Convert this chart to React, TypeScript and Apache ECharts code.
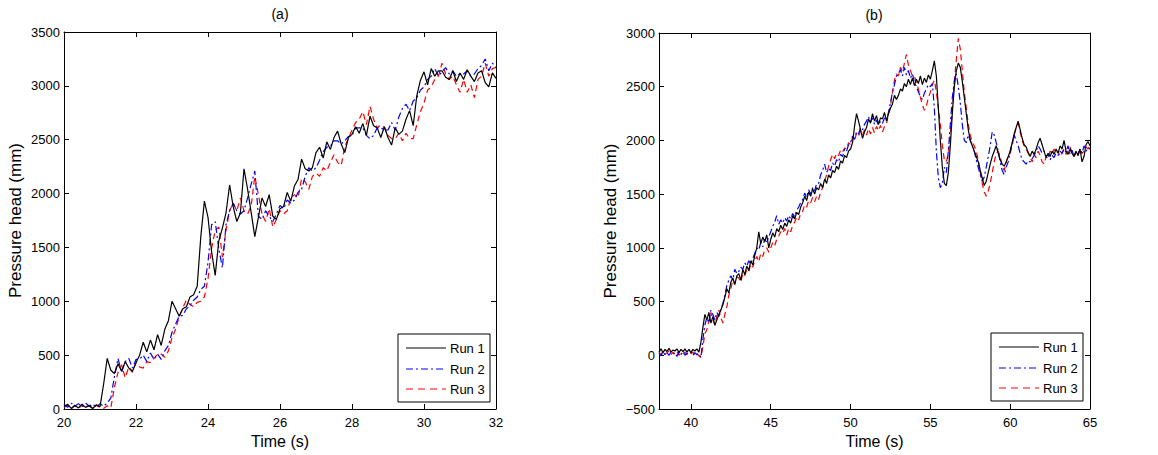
import React, { useEffect, useRef } from "react";
import * as echarts from "echarts";

// Panel (a): samples every 0.1 s from 20 s
const A_START = 20;
const A_STEP = 0.1;
const run1A = [
  20, 45, 5, 35, 10, 45, 15, 35, 5, 40, 20,
  230, 470, 360, 330, 420, 350, 440, 380, 350, 430,
  500, 620, 530, 640, 550, 690, 590, 740, 820, 1000,
  930, 860, 930, 950, 1040, 1060, 1140, 1600, 1930, 1780,
  1460, 1240, 1560, 1680, 1820, 2080, 1880, 1740, 1820, 2230,
  2040, 1820, 1600, 1780, 1960, 1880, 1990, 1790, 1760, 1860,
  1880, 2010, 1930, 2070, 2130, 2320, 2230, 2210, 2240, 2380,
  2430, 2330, 2480, 2410, 2520, 2580, 2460, 2380, 2520, 2550,
  2620, 2560, 2650, 2540, 2720, 2630, 2610, 2520, 2620, 2520,
  2450, 2610, 2550, 2580, 2690, 2770, 2630, 2910, 3050, 3130,
  3010, 3160, 3090, 3140, 3140, 3080, 3060, 3140, 3040, 3120,
  3060, 3150, 3090, 3040, 3120, 3140, 3030, 2990, 3120, 3070,
];
const run2A = [
  45, 15, 55, 25, 50, 20, 55, 25, 45, 15, 50,
  25, 55, 100, 300, 470, 340, 440, 470, 380, 460,
  460, 500, 440, 520, 460, 510, 460, 540, 590, 710,
  790, 860, 870, 930, 960, 1010, 1040, 1110, 1140, 1360,
  1710, 1740, 1490, 1310, 1710, 1840, 1910, 1840, 1810, 1840,
  1960, 2090, 2210, 1790, 1760, 1840, 1790, 1740, 1810, 1890,
  1860, 1940, 1910, 1940, 2010, 2040, 2160, 2240, 2210, 2240,
  2310, 2390, 2430, 2440, 2490, 2490, 2460, 2490, 2530, 2540,
  2610, 2610, 2610, 2540, 2510, 2540, 2610, 2610, 2590, 2590,
  2660, 2590, 2710, 2790, 2830, 2770, 2860, 2890, 2960, 2990,
  3060, 3090, 3160, 3090, 3130, 3170, 3110, 3140, 3090, 3110,
  3110, 3140, 3090, 3110, 3160, 3190, 3250, 3140, 3210, 3170,
];
const run3A = [
  15, 35, 0, 30, 5, 35, 10, 30, 0, 35, 15,
  5, 30, 10, 200, 340, 410, 290, 390, 340, 430,
  390, 380, 440, 430, 470, 510, 510, 480, 540, 660,
  740, 860, 940, 1010, 970, 950, 990, 1000, 1040, 1210,
  1490, 1660, 1690, 1410, 1660, 1840, 1910, 1840, 1960, 1840,
  1810, 1890, 2160, 1990, 1810, 1740, 1860, 1690, 1760, 1840,
  1810, 1840, 1960, 1990, 1960, 2140, 2110, 2040, 2160, 2190,
  2160, 2240, 2210, 2290, 2360, 2290, 2260, 2440, 2510, 2590,
  2660, 2690, 2760, 2640, 2810, 2690, 2610, 2640, 2610, 2540,
  2510, 2510, 2560, 2490, 2560, 2510, 2510, 2640, 2760, 2840,
  2960, 2990, 3060, 3090, 3210, 3110, 3060, 3090, 3010, 2940,
  3060, 2940, 3010, 2890, 3060, 3090, 3210, 3090, 3160, 3170,
];

// Panel (b): samples every 0.125 s from 38 s (one row per second)
const B_START = 38;
const B_STEP = 0.125;
const run1B = [
  30, 60, 25, 55, 35, 65, 30, 50,
  40, 60, 25, 55, 35, 60, 30, 55,
  25, 55, 40, 60, 30, 120, 260, 380,
  330, 400, 300, 360, 280, 330, 380, 420,
  470, 540, 620, 580, 680, 720, 660, 740,
  760, 700, 800, 750, 830, 790, 880, 840,
  930, 1000, 1150, 1040, 1100, 1060, 1120, 1000,
  1080, 1140, 1100, 1180, 1150, 1210, 1170, 1230,
  1200, 1260, 1230, 1300, 1270, 1330, 1310, 1380,
  1420, 1480, 1440, 1520, 1480, 1550, 1500, 1560,
  1540, 1600, 1560, 1640, 1600, 1680, 1650, 1720,
  1700, 1760, 1730, 1810, 1790, 1860, 1840, 1900,
  1920, 1980, 2130, 2250, 2180, 2100, 2020, 2080,
  2120, 2200, 2160, 2250, 2180, 2230, 2150, 2210,
  2200, 2260, 2180, 2250, 2300, 2340, 2420, 2380,
  2420, 2480, 2460, 2530, 2500, 2570, 2520, 2580,
  2510, 2570, 2530, 2600, 2520, 2580, 2540, 2610,
  2570, 2650, 2740, 2600, 2300, 2000, 1750, 1600,
  1580, 1700, 1950, 2250, 2500, 2650, 2720, 2680,
  2550, 2400, 2250, 2100, 2000, 1950, 1900, 1850,
  1800, 1720, 1650, 1580, 1620, 1700, 1780, 1850,
  1900, 1950, 1880, 1820, 1780, 1760, 1800, 1850,
  1900, 1980, 2060, 2120, 2180, 2100, 2020, 1960,
  1940, 1890, 1850, 1900, 1870, 1920, 1980, 2020,
  1960, 1900, 1840, 1880, 1850, 1900, 1870, 1920,
  1880, 1950, 1920, 2000, 1900, 1870, 1920, 1880,
  1850, 1900, 1860, 1920, 1800, 1850, 1960, 1990,
  1950,
];
const run2B = [
  20, -5, 35, 5, 25, 0, 30, 10,
  25, -10, 30, 5, 35, 0, 20, 10,
  30, 0, 25, 5, 15, -20, 150, 280,
  350, 300, 420, 380, 330, 400, 360, 430,
  480, 560, 650, 700, 740, 700, 800, 760,
  780, 820, 800, 860, 830, 880, 850, 900,
  950, 1000, 980, 1050, 1010, 1080, 1050, 1100,
  1150, 1200, 1240, 1300, 1220, 1260, 1230, 1280,
  1250, 1300, 1270, 1320, 1290, 1350, 1380, 1420,
  1450, 1510, 1470, 1540, 1500, 1560, 1530, 1600,
  1600, 1680, 1720, 1780, 1700, 1740, 1720, 1790,
  1760, 1820, 1800, 1870, 1850, 1920, 1900, 1960,
  1980, 2040, 2010, 2080, 2060, 2120, 2100, 2150,
  2180, 2220, 2170, 2210, 2150, 2190, 2140, 2180,
  2160, 2210, 2180, 2260, 2350, 2450, 2520, 2600,
  2620, 2660, 2600, 2680, 2610, 2650, 2580, 2620,
  2540, 2500, 2450, 2410, 2380, 2440, 2480, 2520,
  2500, 2530, 2300, 1900, 1650, 1560, 1600, 1750,
  1700, 1900, 2150, 2400, 2550, 2620, 2500, 2350,
  2150, 2000, 1980, 2050, 2000, 1950, 1900, 1820,
  1750, 1680, 1620, 1660, 1750, 1850, 1950, 2080,
  2050, 1980, 1900, 1800, 1720, 1680, 1750, 1800,
  1900, 1970, 2050, 2000, 1950, 1880, 1820, 1800,
  1780, 1810, 1800, 1830, 1860, 1900, 1950, 1920,
  1880, 1900, 1850, 1870, 1820, 1860, 1840, 1880,
  1860, 1900, 1880, 1920, 1890, 1950, 1870, 1910,
  1850, 1890, 1870, 1920, 1880, 1950, 1900, 1930,
  1920,
];
const run3B = [
  30, 5, 35, 10, 25, 40, 5, 30,
  10, 35, 0, 25, 15, 30, 5, 25,
  15, 30, 0, 20, -5, -20, 80, 200,
  240, 320, 400, 330, 280, 360, 420, 350,
  300, 380, 450, 560, 620, 700, 660, 730,
  720, 680, 760, 740, 800, 780, 850, 820,
  880, 920, 870, 950, 920, 980, 1000, 960,
  1000, 1050, 1020, 1080, 1110, 1150, 1130, 1180,
  1120, 1180, 1150, 1210, 1240, 1290, 1260, 1320,
  1340, 1400, 1380, 1440, 1420, 1470, 1430, 1480,
  1450, 1520, 1560, 1620, 1680, 1760, 1820, 1870,
  1830, 1880, 1860, 1910, 1890, 1930, 1920, 1980,
  1960, 2030, 2000, 2070, 2040, 2090, 2050, 2100,
  2050, 2110, 2060, 2120, 2070, 2130, 2090, 2140,
  2080, 2130, 2150, 2250, 2320, 2450, 2560, 2620,
  2600, 2680, 2640, 2720, 2800, 2700, 2650, 2600,
  2600, 2540, 2480, 2400, 2330, 2280, 2320, 2400,
  2450, 2520, 2560, 2450, 2300, 2150, 1950, 1820,
  1800, 1880, 2050, 2300, 2550, 2750, 2950, 2850,
  2650, 2450, 2300, 2150, 2050, 1980, 1950, 1900,
  1820, 1700, 1600, 1520, 1480, 1530, 1600, 1700,
  1800, 1880, 1900, 1850, 1760, 1720, 1800, 1850,
  1880, 1950, 2050, 2120, 2160, 2080, 2000, 1950,
  1920, 1880, 1850, 1800, 1870, 1840, 1900, 1860,
  1800, 1780, 1850, 1830, 1900, 1870, 1920, 1880,
  1900, 1850, 1880, 1920, 1870, 1900, 1940, 1880,
  1850, 1900, 1860, 1920, 1880, 1900, 1940, 1920,
  1950,
];

const RUN_NAMES = ["Run 1", "Run 2", "Run 3"];
const X_TICKS_B = [40, 45, 50, 55, 60, 65];
const PANEL_TITLES = ["(a)", "(b)"];

const FONT = "Liberation Sans, Arial, Helvetica, sans-serif";

function toPairs(start: number, step: number, vals: number[]) {
  return vals.map((v, i) => [+(start + i * step).toFixed(4), v]);
}

const STYLES = [
  { color: "#000000", type: "solid" as any, dash: null as any },
  { color: "#0000ff", type: [7, 3, 2, 3] as any, dash: [7, 3, 2, 3] },
  { color: "#ff0000", type: [6, 4] as any, dash: [7, 5] },
];

function legendGraphic(x: number, y: number, rowYs: number[], lineX: number, textX: number) {
  const children: any[] = [
    {
      type: "rect",
      shape: { x, y, width: 92, height: 68 },
      style: { fill: "#fff", stroke: "#000", lineWidth: 1 },
      z: 100,
    },
  ];
  RUN_NAMES.forEach((name, i) => {
    children.push({
      type: "line",
      shape: { x1: lineX, y1: rowYs[i], x2: lineX + 40, y2: rowYs[i] },
      style: { stroke: STYLES[i].color, lineWidth: 1, lineDash: STYLES[i].dash },
      z: 101,
    });
    children.push({
      type: "text",
      x: textX,
      y: rowYs[i],
      style: {
        text: name, font: `13px ${FONT}`, fill: "#000",
        align: "left", verticalAlign: "middle", textAlign: "left", textVerticalAlign: "middle",
      },
      z: 101,
    });
  });
  return children;
}

export default function App() {
  const ref = useRef<HTMLDivElement>(null);
  useEffect(() => {
    if (!ref.current) return;
    const chart = echarts.init(ref.current, undefined, { renderer: "svg" });

    const axisCommon = {
      axisLine: { show: true, onZero: false, lineStyle: { color: "#000", width: 1 } },
      axisTick: { show: true, inside: true, length: 5, lineStyle: { color: "#000" } },
      splitLine: { show: false },
      axisLabel: { color: "#000", fontSize: 13, fontFamily: FONT },
    };

    const grids = [
      { left: 64, top: 32, width: 432, height: 377 },
      { left: 659, top: 33, width: 431, height: 376 },
    ];

    const xAxes: any[] = [
      {
        ...axisCommon, type: "value", gridIndex: 0, position: "bottom",
        min: 20, max: 32, interval: 2,
        axisLabel: { ...axisCommon.axisLabel, margin: 7 },
        name: "Time (s)", nameLocation: "middle", nameGap: 24,
        nameTextStyle: { fontSize: 16, color: "#000", fontFamily: FONT },
      },
      {
        ...axisCommon, type: "value", gridIndex: 0, position: "top",
        min: 20, max: 32, interval: 2, axisLabel: { show: false },
      },
      {
        ...axisCommon, type: "value", gridIndex: 1, position: "bottom",
        min: 38, max: 65,
        axisTick: { ...axisCommon.axisTick, customValues: X_TICKS_B },
        axisLabel: { ...axisCommon.axisLabel, margin: 7, customValues: X_TICKS_B },
        name: "Time (s)", nameLocation: "middle", nameGap: 24,
        nameTextStyle: { fontSize: 16, color: "#000", fontFamily: FONT },
      },
      {
        ...axisCommon, type: "value", gridIndex: 1, position: "top",
        min: 38, max: 65,
        axisTick: { ...axisCommon.axisTick, customValues: X_TICKS_B },
        axisLabel: { show: false, customValues: X_TICKS_B },
      },
    ];

    const yName = {
      name: "Pressure head (mm)", nameLocation: "middle", nameGap: 40,
      nameTextStyle: { fontSize: 17, color: "#000", fontFamily: FONT },
    };
    const fmt = (v: number) => String(v).replace("-", "\u2212");
    const yAxes: any[] = [
      {
        ...axisCommon, type: "value", gridIndex: 0, position: "left",
        min: 0, max: 3500, interval: 500,
        axisLabel: { ...axisCommon.axisLabel, margin: 4, formatter: fmt },
        ...yName,
      },
      {
        ...axisCommon, type: "value", gridIndex: 0, position: "right",
        min: 0, max: 3500, interval: 500, axisLabel: { show: false },
      },
      {
        ...axisCommon, type: "value", gridIndex: 1, position: "left",
        min: -500, max: 3000, interval: 500,
        axisLabel: { ...axisCommon.axisLabel, margin: 4, formatter: fmt },
        ...yName,
      },
      {
        ...axisCommon, type: "value", gridIndex: 1, position: "right",
        min: -500, max: 3000, interval: 500, axisLabel: { show: false },
      },
    ];

    const dataA = [run1A, run2A, run3A];
    const dataB = [run1B, run2B, run3B];
    const series: any[] = [];
    dataA.forEach((vals, i) => {
      series.push({
        type: "line", name: RUN_NAMES[i], xAxisIndex: 0, yAxisIndex: 0,
        data: toPairs(A_START, A_STEP, vals), symbol: "none", z: 10 - i,
        lineStyle: { color: STYLES[i].color, width: 1.2, type: STYLES[i].type },
        itemStyle: { color: STYLES[i].color },
      });
    });
    dataB.forEach((vals, i) => {
      series.push({
        type: "line", name: RUN_NAMES[i], xAxisIndex: 2, yAxisIndex: 2,
        data: toPairs(B_START, B_STEP, vals), symbol: "none", z: 10 - i,
        lineStyle: { color: STYLES[i].color, width: 1.2, type: STYLES[i].type },
        itemStyle: { color: STYLES[i].color },
      });
    });

    chart.setOption({
      animation: false,
      backgroundColor: "#fff",
      grid: grids,
      xAxis: xAxes,
      yAxis: yAxes,
      series,
      graphic: [
        ...legendGraphic(398, 334, [348, 369, 389], 406, 450),
        ...legendGraphic(991, 333, [347, 368, 388], 999, 1043),
        {
          type: "text", x: 280, y: 14,
          style: { text: PANEL_TITLES[0], font: `14px ${FONT}`, fill: "#000", align: "center", verticalAlign: "middle", textAlign: "center", textVerticalAlign: "middle" },
        },
        {
          type: "text", x: 874, y: 15,
          style: { text: PANEL_TITLES[1], font: `14px ${FONT}`, fill: "#000", align: "center", verticalAlign: "middle", textAlign: "center", textVerticalAlign: "middle" },
        },
      ],
    });
    return () => chart.dispose();
  }, []);

  return (
    <div
      ref={ref}
      style={{ position: "fixed", left: 0, top: 0, width: 1158, height: 455, background: "#fff" }}
    />
  );
}
